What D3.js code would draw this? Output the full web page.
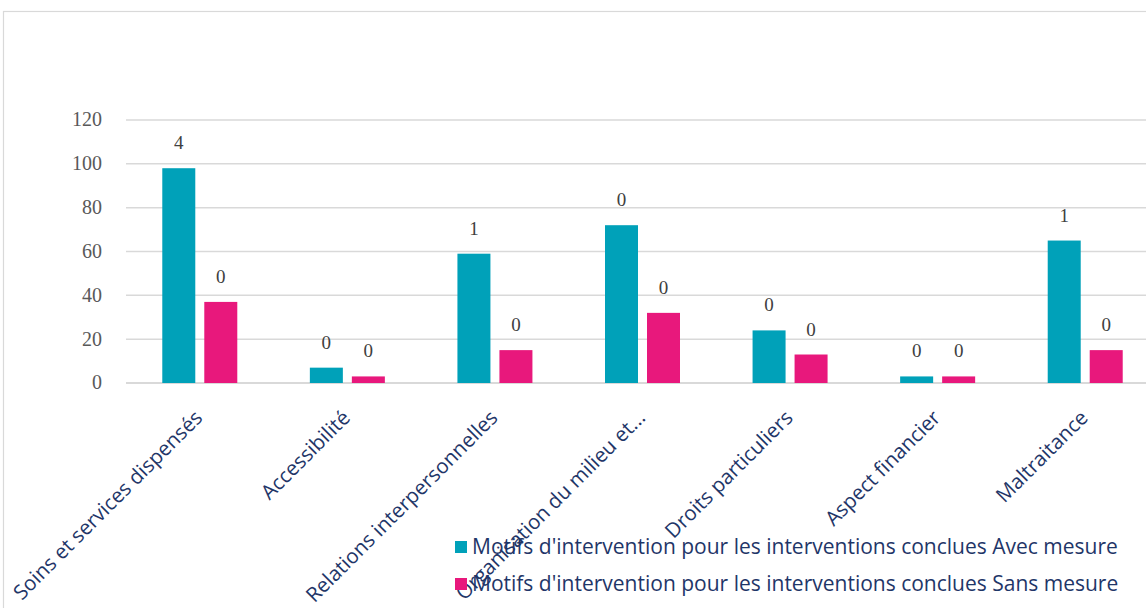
<!DOCTYPE html>
<html>
<head>
<meta charset="utf-8">
<script src="https://cdn.jsdelivr.net/npm/d3@7"></script>
<style>
  body { margin: 0; background: #fff; }
  svg { display: block; }
  .tick-label { font-family: "Liberation Serif", "DejaVu Serif", serif; font-size: 20px; fill: #595959; font-variant-numeric: oldstyle-nums; }
  .bar-label { font-family: "Liberation Serif", "DejaVu Serif", serif; font-size: 19px; fill: #404040; font-variant-numeric: oldstyle-nums; }
  .cat-label { font-family: "Open Sans", sans-serif; font-size: 20.5px; fill: #1f3668; }
  .legend-text { font-family: "Open Sans", sans-serif; font-size: 21px; fill: #1f3668; }
</style>
</head>
<body>
<div id="chart"></div>
<script>
let categories = ['Soins et services dispensés', 'Accessibilité', 'Relations interpersonnelles',
  'Organisation du milieu et...', 'Droits particuliers', 'Aspect financier', 'Maltraitance']
let seriesNames = ["Motifs d'intervention pour les interventions conclues Avec mesure",
  "Motifs d'intervention pour les interventions conclues Sans mesure"]
let avecMesure = [98, 7, 59, 72, 24, 3, 65]
let sansMesure = [37, 3, 15, 32, 13, 3, 15]
// numbers shown above the bars (they are not the bar heights)
let avecLabels = ['4', '0', '1', '0', '0', '0', '1']
let sansLabels = ['0', '0', '0', '0', '0', '0', '0']
let yTicks = [0, 20, 40, 60, 80, 100, 120]

let colors = ['#00a1b9', '#e8187c']

let width = 1146,
  height = 608,
  plotLeft = 126,
  plotRight = 1159, // plot runs past the visible edge
  plotTop = 120,
  plotBottom = 383

let svg = d3.select('#chart').append('svg')
  .attr('width', width)
  .attr('height', height)

// chart area border (left + top visible)
svg.append('rect')
  .attr('x', 3.5)
  .attr('y', 11.5)
  .attr('width', width + 10)
  .attr('height', height + 10)
  .attr('fill', 'none')
  .attr('stroke', '#d9d9d9')
  .attr('stroke-width', 1.2)

// scales
let x0 = d3.scaleBand()
  .domain(categories)
  .range([plotLeft, plotRight])

let barGroup = 75
let x1 = d3.scaleBand()
  .domain([0, 1])
  .range([x0.bandwidth() / 2 - barGroup / 2, x0.bandwidth() / 2 + barGroup / 2])
  .paddingInner(9 / 42)

let y = d3.scaleLinear()
  .domain([0, 120])
  .range([plotBottom, plotTop])

// gridlines
svg.append('g').selectAll('.grid')
  .data(yTicks)
  .enter().append('line')
  .attr('x1', plotLeft)
  .attr('x2', plotRight)
  .attr('y1', d => y(d))
  .attr('y2', d => y(d))
  .attr('stroke', '#d9d9d9')
  .attr('stroke-width', d => d === 0 ? 2 : 1.5)

// y tick labels
svg.append('g').selectAll('.tick-label')
  .data(yTicks)
  .enter().append('text')
  .attr('class', 'tick-label')
  .attr('x', 102)
  .attr('y', d => y(d))
  .attr('dy', '0.32em')
  .attr('text-anchor', 'end')
  .text(d => d)

let series = [
  {values: avecMesure, labels: avecLabels},
  {values: sansMesure, labels: sansLabels}
]

series.forEach(function (s, si) {
  let g = svg.append('g')
  g.selectAll('rect')
    .data(s.values)
    .enter().append('rect')
    .attr('x', (d, i) => x0(categories[i]) + x1(si))
    .attr('y', d => y(d))
    .attr('width', x1.bandwidth())
    .attr('height', d => y(0) - y(d))
    .attr('fill', colors[si])

  g.selectAll('text')
    .data(s.values)
    .enter().append('text')
    .attr('class', 'bar-label')
    .attr('x', (d, i) => x0(categories[i]) + x1(si) + x1.bandwidth() / 2)
    .attr('y', d => y(d) - 19)
    .attr('text-anchor', 'middle')
    .text((d, i) => s.labels[i])
})

// category labels, rotated
svg.append('g').selectAll('.cat-label')
  .data(categories)
  .enter().append('text')
  .attr('class', 'cat-label')
  .attr('text-anchor', 'end')
  .attr('transform', d => 'translate(' + (x0(d) + x0.bandwidth() / 2 + 4) + ',' + 419 + ') rotate(-45)')
  .text(d => d)

// legend
let legend = svg.append('g').selectAll('.legend')
  .data(seriesNames)
  .enter().append('g')
  .attr('transform', (d, i) => 'translate(455,' + (541 + i * 37) + ')')

legend.append('rect')
  .attr('width', 12)
  .attr('height', 12)
  .attr('fill', (d, i) => colors[i])

legend.append('text')
  .attr('class', 'legend-text')
  .attr('x', 17)
  .attr('y', 6)
  .attr('dy', '0.35em')
  .text(d => d)
</script>
</body>
</html>
